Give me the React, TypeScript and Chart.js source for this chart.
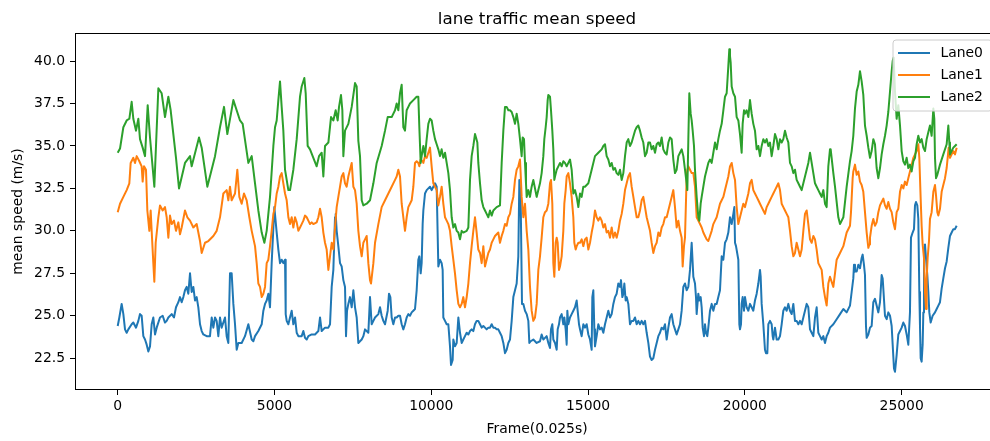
import React, { useEffect, useRef } from "react";
import { Chart, registerables } from "chart.js";

Chart.register(...registerables);

const TITLE = "lane traffic mean speed";
const X_LABEL = "Frame(0.025s)";
const Y_LABEL = "mean speed (m/s)";
const seriesNames = ["Lane0", "Lane1", "Lane2"];
const seriesColors = ["#1f77b4", "#ff7f0e", "#2ca02c"];
const xTickValues = [0, 5000, 10000, 15000, 20000, 25000];
const yTickValues = [22.5, 25, 27.5, 30, 32.5, 35, 37.5, 40];
const xAxisRange = [-1362, 28105];
const yAxisRange = [20.63, 41.65];

const lane0Frames = [
  0,52,126,180,233,286,339,445,498,584,658,711,764,817,871,924,977,1030,1083,1136,1190,1243,1349,1434,1508,1562,1615,1721,1795,1859,1934,1987,2040,2093,2146,2199,2252,2306,2359,2412,2465,2518,2571,2625,2678,2731,2837,2943,2997,3050,3103,3156,3209,3262,3315,3422,3475,3528,3581,3634,3688,3741,3794,3847,3953,4059,4166,
  4273,4326,4379,4485,4592,4645,4698,4751,4804,4857,4910,4995,5070,5123,5176,5229,5282,5336,5357,5389,5442,5495,5548,5601,5655,5708,5761,5867,5920,5973,6027,6080,6186,6292,6399,6452,6505,6611,6718,6771,6824,6877,6930,6951,6983,7036,7090,7143,7196,7249,7281,7313,7355,7408,7462,7515,7568,7621,7674,7727,7781,7834,7887,7993,8046,8099,8153,8206,8312,8365,8418,8471,8525,8610,8652,8695,8737,8790,8844,
  8896,8949,9003,9056,9109,9162,9215,9268,9321,9375,9428,9481,9534,9587,9619,9662,9693,9725,9747,9800,9853,9906,9959,10012,10065,10119,10172,10225,10278,10331,10363,10384,10438,10491,10544,10597,10629,10682,10703,10756,10810,10863,10916,10969,11022,11075,11129,11182,11235,11288,11341,11394,11447,11500,11554,11607,11660,11713,11766,11819,11873,11926,11979,12032,12085,12138,12191,12245,12298,12351,12404,12457,12510,12564,12617,12670,12723,12776,12808,12850,12893,12936,12989,13042,13095,13127,13169,13254,13361,13467,
  13520,13573,13627,13680,13733,13786,13818,13860,13892,13946,13999,14031,14073,14105,14158,14211,14243,14286,14318,14339,14371,14424,14477,14530,14583,14637,14668,14711,14743,14796,14849,14902,14955,15009,15062,15115,15136,15168,15200,15221,15274,15327,15381,15434,15487,15540,15593,15646,15700,15753,15806,15859,15912,15965,16018,16050,16093,16125,16157,16199,16231,16284,16337,16390,16444,16497,16550,16603,16656,16709,16762,16816,16869,16922,16975,17028,17081,17135,17188,17241,17294,17347,17400,17453,17507,17560,17613,17666,17719,17772,17825,17879,17932,17985,18038,18091,
  18144,18198,18251,18304,18336,18357,18410,18442,18463,18516,18548,18591,18623,18655,18697,18729,18761,18803,18835,18889,18942,18995,19048,19101,19154,19207,19261,19314,19367,19420,19473,19526,19580,19633,19665,19686,19718,19739,19792,19824,19845,19877,19898,19930,19973,20005,20058,20111,20164,20217,20270,20323,20377,20430,20483,20504,20536,20589,20642,20674,20717,20749,20802,20855,20887,20908,20961,21015,21068,21121,21174,21227,21280,21333,21387,21440,21493,21546,21599,21652,21706,21759,21812,21865,21918,21971,22024,22078,22131,22184,22237,22290,22343,22396,22450,22503,22556,22609,22662,22715,
  22822,22928,23035,23141,23247,23353,23406,23459,23481,23512,23566,23619,23672,23725,23757,23799,23831,23863,23885,23938,23991,24044,24097,24150,24203,24257,24310,24363,24395,24416,24469,24522,24575,24629,24682,24714,24756,24788,24841,24894,24948,25001,25054,25107,25160,25213,25266,25298,25351,25394,25426,25458,25500,25532,25564,25585,25607,25638,25670,25692,25713,25745,25777,25819,25851,25883,25926,25989,26064,26117,26170,26223,26276,26329,26383,26436,26489,26542,26595,26648,26701,26755,
];
const lane0Speed = [
  24.4,24.9,25.7,25.1,24.2,24.0,24.2,24.5,24.6,24.3,24.7,25.1,25.0,23.8,23.6,23.3,22.9,23.2,24.5,24.9,23.9,24.3,24.9,25.0,24.6,24.7,24.9,25.1,24.9,25.5,25.8,26.1,25.8,26.1,26.5,26.7,26.3,27.5,26.4,26.7,25.9,26.1,25.5,24.5,24.1,23.9,23.8,23.8,24.9,24.3,24.9,24.7,23.8,24.9,24.3,24.9,23.8,23.4,27.5,27.5,25.7,24.5,23.0,23.4,23.4,23.8,24.5,
  23.6,23.5,23.8,24.1,24.5,25.3,25.7,25.9,26.3,25.5,28.1,31.4,29.9,28.9,28.1,28.3,28.1,28.3,25.1,24.7,24.5,24.9,25.3,24.5,24.9,24.0,23.8,23.8,24.1,23.7,23.6,23.8,23.9,23.9,24.1,24.9,24.1,24.3,24.3,24.5,26.7,27.7,30.8,31.0,30.0,29.1,28.1,27.9,27.1,26.7,23.8,25.3,25.7,26.1,25.5,26.5,25.5,24.9,23.4,23.5,23.6,23.8,24.2,24.0,26.1,24.5,24.7,24.9,25.1,25.5,25.0,24.7,24.5,25.3,26.3,26.1,24.9,24.5,24.9,
  24.9,25.0,25.0,24.5,24.2,24.5,24.9,25.1,25.0,25.2,25.3,25.4,26.5,28.3,28.5,27.5,28.1,30.4,31.2,32.2,32.4,32.5,32.6,32.4,32.6,32.8,32.6,27.9,28.3,28.1,27.7,24.9,24.7,24.5,24.5,23.2,22.1,22.4,23.6,23.2,23.4,24.9,24.0,23.4,23.6,23.8,24.0,23.9,24.1,24.2,24.1,24.5,24.7,24.7,24.5,24.3,24.4,24.3,24.2,24.3,24.3,24.5,24.3,24.3,24.2,24.2,24.0,23.8,23.4,22.8,23.0,23.4,23.6,24.7,26.1,26.5,26.9,28.5,33.0,32.0,25.7,25.7,25.3,25.1,24.7,23.4,23.5,23.6,23.4,23.5,
  23.9,23.6,23.7,23.8,23.4,23.1,24.2,24.5,23.6,23.4,23.0,24.2,24.5,24.9,25.1,24.5,24.9,24.2,23.3,25.3,24.5,24.9,25.1,25.3,25.5,25.9,25.3,24.5,24.2,23.8,24.5,24.3,24.5,23.9,23.6,23.0,26.1,26.5,24.2,23.2,23.8,24.5,24.2,24.3,24.0,24.5,24.9,25.3,24.9,25.1,25.7,26.1,26.3,26.9,26.7,27.1,26.1,26.3,26.9,25.9,26.1,25.7,24.5,24.7,24.7,24.9,24.5,24.7,24.5,24.7,24.5,24.7,24.0,23.4,22.6,22.4,22.5,23.0,23.4,23.8,24.0,24.3,24.2,24.5,23.6,24.3,24.9,25.1,24.5,24.2,23.9,24.2,24.5,25.3,26.7,26.9,
  26.5,26.7,27.7,29.3,28.1,27.3,26.9,26.1,25.1,26.3,25.9,26.1,25.5,24.3,23.8,24.5,24.0,23.8,24.3,25.3,25.7,25.3,25.7,25.7,26.1,26.5,28.5,28.3,29.3,29.5,29.9,30.8,30.4,31.0,31.4,29.3,29.1,29.1,28.3,24.5,24.2,24.5,25.7,26.1,25.3,26.1,25.5,25.3,25.7,25.5,25.3,25.9,26.3,26.9,27.7,27.3,25.7,24.5,23.0,22.8,22.8,24.5,24.7,24.5,23.8,23.6,24.3,23.6,23.6,23.8,24.5,25.3,25.5,25.3,25.7,25.3,25.1,25.7,24.7,24.7,24.5,24.7,24.5,24.9,25.3,25.7,25.5,24.2,24.0,23.8,24.9,25.5,24.0,23.8,23.6,23.8,23.4,23.8,24.0,24.3,
  24.5,24.8,25.1,25.4,25.2,25.6,26.4,27.2,28.0,27.6,27.6,28.0,27.8,28.4,28.6,28.0,27.4,24.4,23.7,23.9,24.3,24.4,25.8,26.0,25.6,25.2,25.8,27.4,27.2,26.6,25.0,24.8,25.2,25.0,24.4,23.3,21.9,21.7,22.7,23.9,24.1,24.3,24.6,24.4,23.9,23.3,25.2,29.6,29.9,30.1,31.5,31.7,31.5,30.7,26.4,24.4,22.5,22.3,23.3,25.2,28.4,29.2,28.4,27.4,26.4,25.2,24.6,25.0,25.2,25.4,25.6,25.8,26.6,27.2,27.8,28.2,29.0,29.7,29.9,30.1,30.1,30.3,
];

const lane1Frames = [
  0,74,180,286,371,413,498,552,605,690,764,796,839,902,945,1009,1051,1083,1136,1168,1211,1296,1349,1434,1508,1562,1615,1668,1721,1795,1859,1934,1987,2040,2146,2221,2306,2412,2518,2625,2678,2784,2890,3050,3156,3262,3369,3475,3528,3581,3634,3741,3815,3879,3953,4028,4113,4198,
  4273,4379,4432,4485,4538,4592,4645,4698,4751,4804,4857,4910,4964,5017,5070,5123,5176,5229,5282,5336,5389,5442,5495,5548,5601,5655,5708,5761,5814,5867,5920,5973,6027,6080,6133,6186,6239,6345,6399,6452,6505,6558,6611,6664,6718,6771,6824,6877,6930,6983,7036,7090,7143,7196,7249,7302,7355,7408,7462,7515,7568,7621,7674,7727,7781,7834,7887,7940,7993,8046,8078,8153,8206,8312,8418,8525,8631,8737,8844,
  8896,8949,9003,9056,9109,9162,9215,9268,9321,9375,9428,9481,9534,9587,9619,9662,9725,9747,9800,9853,9906,9959,10012,10065,10119,10172,10225,10278,10331,10384,10438,10491,10544,10597,10650,10703,10756,10810,10863,10916,10969,11022,11075,11129,11182,11235,11288,11341,11394,11447,11500,11554,11607,11660,11713,11766,11819,11873,11926,11979,12032,12085,12138,12191,12245,12298,12351,12404,12457,12510,12564,12617,12670,12723,12776,12829,12850,12882,12936,12989,13042,13095,13148,13201,13254,13308,13361,13414,13467,
  13520,13573,13627,13680,13733,13786,13818,13860,13892,13924,13967,13999,14031,14073,14105,14158,14211,14243,14286,14318,14371,14424,14477,14530,14562,14605,14637,14690,14743,14796,14849,14902,14955,15009,15062,15115,15168,15221,15274,15327,15381,15434,15487,15540,15593,15646,15700,15753,15806,15859,15912,15965,16018,16072,16125,16178,16231,16284,16337,16390,16444,16497,16550,16603,16656,16709,16762,16816,16869,16922,16975,17028,17081,17135,17188,17241,17294,17347,17400,17453,17507,17560,17613,17666,17719,17772,17825,17879,17932,17985,18017,18059,18091,
  18144,18166,18198,18251,18304,18357,18410,18463,18516,18570,18623,18676,18729,18782,18835,18889,18942,18995,19048,19101,19154,19207,19261,19314,19367,19420,19473,19526,19580,19633,19686,19739,19792,19845,19898,19951,20005,20058,20111,20164,20217,20270,20323,20377,20430,20483,20536,20589,20642,20696,20749,20802,20855,20908,20961,21015,21068,21121,21174,21227,21280,21333,21387,21440,21493,21546,21599,21652,21706,21759,21812,21865,21918,21971,22024,22078,22131,22184,22237,22290,22343,22396,22450,22503,22556,22609,22662,22715,
  22822,22928,23035,23141,23247,23353,23385,23406,23438,23459,23512,23566,23619,23672,23725,23778,23831,23885,23938,23970,23991,24044,24097,24150,24203,24257,24310,24363,24416,24469,24522,24575,24629,24682,24735,24788,24841,24894,24948,25001,25054,25107,25160,25213,25266,25320,25373,25426,25479,25532,25564,25607,25638,25670,25713,25745,25777,25798,25830,25872,25904,25957,26011,26064,26096,26138,26170,26223,26276,26329,26383,26436,26468,26500,26542,26595,26648,26701,26755,
];
const lane1Speed = [
  31.1,31.6,32.0,32.4,32.8,34.0,34.3,34.0,34.4,34.1,33.8,32.9,33.8,33.6,31.2,30.0,31.2,30.0,28.1,27.0,29.3,30.8,31.5,31.2,31.4,30.8,29.6,30.9,30.4,30.6,30.0,30.5,29.8,30.2,31.2,30.8,30.6,30.2,30.4,29.4,28.7,29.3,29.4,29.7,30.0,30.8,32.2,32.4,31.8,32.6,31.8,32.2,33.6,32.0,31.6,32.2,31.8,30.8,
  30.0,29.1,28.1,26.9,26.7,26.1,26.3,26.7,28.1,28.3,29.1,30.0,31.0,31.4,32.2,32.6,33.2,33.4,32.8,32.2,31.8,30.8,30.4,30.8,30.2,30.8,30.5,30.0,30.2,30.4,30.6,30.9,30.8,30.6,30.4,30.5,30.4,30.5,30.8,31.3,30.8,29.9,29.3,28.9,27.7,28.5,29.3,28.9,30.2,31.4,32.0,32.6,33.2,33.4,32.8,32.6,33.2,33.6,34.0,32.6,32.4,31.6,30.0,29.1,28.5,29.3,29.5,29.7,28.1,27.1,26.9,28.1,29.3,30.4,31.4,31.8,32.2,32.6,33.0,
  33.2,33.6,33.2,31.6,30.8,30.0,30.8,31.4,31.6,31.8,32.6,34.0,34.1,34.0,33.8,34.2,34.1,34.0,34.4,34.3,34.6,34.9,33.8,32.8,32.6,32.4,31.5,32.0,32.6,31.6,30.8,30.6,30.4,30.0,29.1,28.3,27.5,26.5,25.7,25.5,25.7,26.1,25.5,26.1,26.9,28.1,29.1,30.0,30.8,29.9,28.9,28.7,28.1,29.1,27.9,28.3,28.7,28.9,29.3,29.5,29.7,29.8,29.9,29.3,29.7,30.0,30.4,30.3,30.8,31.0,31.6,32.0,33.0,33.6,33.8,34.2,33.4,32.0,30.8,31.6,30.0,28.9,26.7,25.3,24.7,24.9,25.7,27.7,28.5,
  29.6,30.8,31.1,31.2,31.6,32.8,33.0,31.6,28.1,27.3,29.3,29.6,29.3,27.7,27.9,28.5,30.0,31.6,32.4,33.2,33.4,32.8,32.0,30.8,29.3,28.9,29.1,29.3,29.3,29.5,29.1,29.5,29.6,28.9,29.3,29.9,30.4,31.2,30.8,30.6,30.8,30.6,30.2,30.4,29.9,30.0,29.6,30.2,29.6,29.9,29.6,30.0,30.6,31.0,31.6,32.4,32.8,33.2,33.4,32.6,32.0,31.4,30.8,30.8,31.2,31.8,32.0,31.4,30.8,30.4,30.0,29.3,28.7,29.1,29.3,29.9,29.7,30.2,30.4,30.8,30.8,31.2,31.6,32.0,32.4,31.4,30.2,30.6,30.0,29.6,27.9,29.1,29.6,
  33.2,33.6,33.8,33.6,33.4,33.4,32.6,30.8,30.6,30.4,30.2,29.9,29.7,29.5,29.4,29.7,30.0,30.4,30.6,30.8,31.2,31.6,31.8,32.0,32.4,32.8,33.2,33.8,34.0,33.4,33.0,31.4,30.4,30.8,31.2,31.6,31.4,31.8,32.2,32.8,33.0,32.4,32.2,32.0,31.8,31.6,31.4,31.2,31.0,31.4,31.6,31.8,32.0,32.2,32.4,32.6,32.8,32.4,31.6,31.4,31.2,31.0,30.8,30.0,29.1,28.5,28.7,29.3,28.9,28.5,28.9,30.0,31.0,31.2,30.4,29.5,29.3,29.7,29.5,28.9,28.1,27.9,27.7,26.7,26.1,25.6,26.9,27.3,
  26.7,28.3,28.7,29.1,29.9,30.3,31.1,31.9,33.1,33.5,33.9,33.3,33.5,32.9,32.7,32.3,31.1,29.9,29.0,29.2,29.6,30.3,30.7,30.3,30.5,31.1,31.5,31.7,31.9,31.5,31.3,31.7,31.3,31.1,30.5,30.1,31.1,31.3,32.3,32.7,32.5,32.9,32.7,33.1,33.5,33.9,34.3,34.5,34.7,35.1,34.3,31.9,30.3,29.2,28.4,26.4,25.4,27.2,28.4,29.4,30.7,31.1,32.3,32.7,32.1,31.1,30.9,31.3,32.3,32.7,33.1,33.7,34.3,34.9,34.3,34.5,34.7,34.5,34.9,
];

const lane2Frames = [
  0,74,180,286,371,445,498,584,658,711,796,871,956,1030,1168,1296,1402,1508,1615,1689,1859,1955,2146,2306,2359,2593,2678,2858,3103,3262,3390,3496,3688,3900,3985,4166,
  4273,4379,4485,4592,4677,4751,4857,4964,5017,5070,5123,5176,5229,5282,5336,5389,5442,5495,5601,5708,5814,5867,5952,5995,6058,6133,6239,6345,6420,6505,6558,6611,6718,6803,6877,6951,7015,7058,7121,7164,7196,7249,7355,7462,7568,7621,7674,7727,7781,7834,7940,8046,8153,8259,8418,8525,8610,8737,8844,
  8896,8949,9003,9056,9109,9162,9215,9268,9321,9428,9534,9587,9619,9662,9693,9747,9800,9853,9906,9959,10012,10065,10119,10172,10225,10278,10331,10384,10438,10491,10544,10597,10650,10703,10756,10810,10863,10916,10969,11022,11129,11182,11235,11288,11341,11394,11426,11469,11500,11554,11607,11660,11713,11766,11819,11873,11926,11979,12085,12191,12245,12298,12351,12404,12457,12510,12564,12617,12670,12723,12776,12829,12882,12914,12957,12989,13020,13042,13095,13148,13201,13254,13361,13414,13467,
  13520,13573,13605,13648,13680,13712,13733,13786,13818,13860,13892,13924,13946,13999,14052,14105,14158,14211,14264,14318,14371,14424,14477,14530,14583,14637,14690,14743,14796,14849,14902,15009,15115,15221,15327,15434,15487,15540,15593,15646,15700,15753,15806,15859,15912,15965,16018,16072,16125,16178,16231,16284,16337,16390,16497,16550,16603,16656,16709,16762,16816,16869,16922,16975,17028,17081,17135,17188,17241,17294,17347,17400,17453,17507,17560,17613,17666,17719,17772,17825,17879,17932,17985,18038,18091,
  18144,18166,18198,18229,18272,18304,18336,18378,18410,18463,18516,18548,18591,18623,18676,18729,18782,18835,18889,18942,18995,19048,19101,19154,19207,19261,19314,19367,19420,19473,19505,19526,19548,19580,19633,19686,19739,19792,19845,19898,19930,19973,20005,20058,20111,20164,20217,20270,20323,20377,20430,20483,20536,20589,20642,20696,20749,20802,20855,20908,20961,21015,21068,21121,21174,21227,21280,21333,21387,21440,21493,21546,21599,21652,21706,21759,21812,21865,21918,21971,22024,22078,22131,22184,22237,22290,22343,22396,22450,22503,22556,22609,22662,22715,
  22737,22822,22875,22981,23035,23141,23247,23353,23406,23459,23512,23566,23619,23672,23725,23778,23831,23885,23938,23991,24044,24097,24150,24203,24257,24310,24363,24416,24469,24522,24575,24629,24682,24714,24746,24788,24841,24894,24948,25001,25054,25107,25160,25213,25266,25320,25373,25426,25479,25532,25585,25638,25692,25745,25798,25851,25904,25957,26011,26042,26064,26096,26138,26223,26329,26436,26489,26521,26542,26595,26648,26701,26755,
];
const lane2Speed = [
  34.6,34.85,36.1,36.5,36.6,37.6,36.6,35.9,36.6,35.4,34.9,34.4,37.4,35.5,32.6,38.4,38.1,36.7,37.9,37.1,34.3,32.5,34.0,34.4,33.8,35.5,34.9,32.6,34.4,36.1,37.3,35.7,37.7,36.5,36.3,34.0,
  34.4,32.8,31.2,29.9,29.3,30.0,32.0,35.0,36.1,36.5,37.7,38.8,37.3,35.9,33.6,33.0,32.4,32.4,33.6,35.4,37.9,38.5,39.0,38.1,35.0,34.8,34.3,33.8,34.4,34.6,33.2,35.0,35.2,36.7,36.5,37.1,36.5,37.3,38.0,37.1,34.4,35.9,36.3,37.3,38.7,38.5,35.3,34.4,31.8,31.5,31.6,31.8,32.8,34.0,35.0,35.9,36.7,36.7,37.1,
  37.5,37.1,38.1,38.6,36.1,35.9,37.1,37.3,37.5,37.7,37.9,37.9,36.1,34.0,34.4,35.0,34.4,35.4,36.3,36.6,36.5,35.9,35.4,35.1,34.8,34.4,34.8,34.3,34.6,34.0,33.4,32.4,30.8,30.2,30.4,30.0,29.9,29.5,30.0,29.9,30.0,30.2,33.0,34.4,35.0,35.7,35.5,35.2,34.0,32.8,31.8,31.4,31.2,31.0,30.8,31.2,30.9,31.2,31.4,31.5,34.0,35.9,37.3,37.3,37.1,37.1,37.0,36.7,36.3,36.9,36.3,35.4,34.4,35.5,35.4,34.0,32.8,32.0,32.4,32.0,32.6,33.0,32.0,32.4,32.8,
  33.4,34.4,35.4,36.1,36.7,37.7,38.0,37.9,37.1,35.9,34.8,33.0,33.2,33.6,33.8,34.0,33.8,34.1,34.0,33.8,34.0,34.2,33.6,32.2,32.4,32.0,31.4,32.2,32.0,32.6,32.6,32.8,33.6,34.4,34.6,34.8,35.0,35.1,34.4,34.2,33.8,34.0,33.6,33.7,33.4,33.3,33.6,33.0,33.4,34.4,35.2,35.4,35.0,35.2,35.9,36.1,36.2,35.9,35.5,35.2,34.4,34.6,35.2,35.2,34.8,35.0,34.6,35.1,35.2,35.0,35.5,34.8,34.6,34.5,35.2,35.5,35.4,34.2,33.4,33.6,34.4,34.6,34.8,34.4,33.6,
  32.8,32.4,35.4,38.1,36.9,36.5,35.9,35.0,33.6,32.0,30.8,30.6,31.6,32.0,32.6,33.2,33.6,34.0,34.2,34.0,34.6,35.2,34.8,35.4,35.9,36.3,37.1,37.9,38.1,39.7,40.7,40.3,39.9,38.5,38.1,37.9,36.7,36.5,35.7,34.6,36.3,37.1,36.9,37.1,36.7,37.7,36.9,36.3,35.9,34.8,35.0,34.4,35.0,35.4,35.2,35.4,35.0,35.2,34.4,35.0,35.7,35.4,34.8,35.4,35.2,35.4,35.9,35.5,35.2,34.0,33.8,33.4,33.6,33.0,32.8,32.6,32.4,32.8,33.2,33.6,34.0,34.6,34.0,33.4,32.8,32.6,32.4,32.2,32.0,32.4,31.6,31.4,33.8,34.8,
  34.8,33.4,32.6,30.8,30.4,30.8,32.6,34.1,34.7,35.6,37.2,38.2,38.6,39.4,38.8,38.0,36.2,35.6,34.9,34.3,34.7,35.4,35.1,33.7,33.1,33.7,34.5,35.1,35.6,36.2,37.0,38.2,39.4,40.0,40.2,38.2,36.6,37.4,36.2,34.7,34.1,33.9,34.3,33.7,33.9,33.5,34.1,34.3,35.1,35.6,35.2,35.4,34.9,34.7,35.4,35.8,36.2,35.6,37.2,36.6,34.3,33.1,33.3,33.9,34.5,35.1,36.2,35.2,34.5,34.7,34.9,35.0,35.1,
];

const FONT = "'DejaVu Sans', 'Liberation Sans', sans-serif";

function toPoints(frames: number[], speeds: number[]) {
  const n = Math.min(frames.length, speeds.length);
  const pts: { x: number; y: number }[] = [];
  for (let i = 0; i < n; i++) pts.push({ x: frames[i], y: speeds[i] });
  return pts;
}

const decorPlugin = {
  id: "decor",
  afterDatasetsDraw(chart: any) {
    const { ctx, chartArea: a } = chart;
    ctx.save();
    ctx.strokeStyle = "#000";
    ctx.lineWidth = 1;
    ctx.strokeRect(Math.round(a.left) + 0.5, Math.round(a.top) + 0.5, Math.round(a.right - a.left), Math.round(a.bottom - a.top) - 1);
    ctx.restore();
  },
  afterDraw(chart: any) {
    const { ctx, chartArea: a } = chart;
    const cx = (a.left + a.right) / 2;
    ctx.save();
    ctx.fillStyle = "#000";
    ctx.textAlign = "center";
    ctx.textBaseline = "alphabetic";
    ctx.font = `16.7px ${FONT}`;
    ctx.fillText(TITLE, cx, 24);
    ctx.font = `13.9px ${FONT}`;
    ctx.fillText(X_LABEL, cx, 433);
    ctx.save();
    ctx.translate(22, (a.top + a.bottom) / 2);
    ctx.rotate(-Math.PI / 2);
    ctx.fillText(Y_LABEL, 0, 0);
    ctx.restore();

    // legend (upper right, inside axes)
    const lw = 99, lh = 71;
    const lx = a.right - 7 - lw;
    const ly = a.top + 7;
    const r = 3;
    ctx.beginPath();
    ctx.moveTo(lx + r, ly);
    ctx.lineTo(lx + lw - r, ly);
    ctx.arcTo(lx + lw, ly, lx + lw, ly + r, r);
    ctx.lineTo(lx + lw, ly + lh - r);
    ctx.arcTo(lx + lw, ly + lh, lx + lw - r, ly + lh, r);
    ctx.lineTo(lx + r, ly + lh);
    ctx.arcTo(lx, ly + lh, lx, ly + lh - r, r);
    ctx.lineTo(lx, ly + r);
    ctx.arcTo(lx, ly, lx + r, ly, r);
    ctx.closePath();
    ctx.fillStyle = "rgba(255,255,255,0.8)";
    ctx.fill();
    ctx.strokeStyle = "#cccccc";
    ctx.lineWidth = 1;
    ctx.stroke();
    ctx.textAlign = "left";
    ctx.textBaseline = "middle";
    ctx.font = `13.9px ${FONT}`;
    for (let i = 0; i < seriesNames.length; i++) {
      const y = ly + 13 + i * 22;
      ctx.strokeStyle = seriesColors[i];
      ctx.lineWidth = 2;
      ctx.beginPath();
      ctx.moveTo(lx + 5, y);
      ctx.lineTo(lx + 37, y);
      ctx.stroke();
      ctx.fillStyle = "#000";
      ctx.fillText(seriesNames[i], lx + 47.5, y + 0.5);
    }
    ctx.restore();
  },
};

export default function App() {
  const ref = useRef<HTMLCanvasElement>(null);
  useEffect(() => {
    const canvas = ref.current;
    if (!canvas) return;
    const series = [
      toPoints(lane0Frames, lane0Speed),
      toPoints(lane1Frames, lane1Speed),
      toPoints(lane2Frames, lane2Speed),
    ];
    const chart = new Chart(canvas, {
      type: "line",
      data: {
        datasets: series.map((pts, i) => ({
          label: seriesNames[i],
          data: pts,
          borderColor: seriesColors[i],
          backgroundColor: seriesColors[i],
          borderWidth: 2,
          pointRadius: 0,
          tension: 0,
          fill: false,
          borderJoinStyle: "round" as const,
          order: seriesNames.length - 1 - i,
        })),
      },
      options: {
        responsive: false,
        animation: false,
        devicePixelRatio: 1,
        parsing: false,
        layout: { padding: { left: 0, right: 11, top: 33, bottom: 0 } },
        plugins: {
          legend: { display: false },
          title: { display: false },
          tooltip: { enabled: false },
        },
        scales: {
          x: {
            type: "linear",
            min: xAxisRange[0],
            max: xAxisRange[1],
            afterBuildTicks: (s: any) => {
              s.ticks = xTickValues.map((v) => ({ value: v }));
            },
            afterFit: (s: any) => {
              s.height = 51;
            },
            grid: { display: true, drawOnChartArea: false, drawTicks: true, tickLength: 5, tickWidth: 1, tickColor: "#000" },
            border: { display: false },
            ticks: {
              autoSkip: false,
              maxRotation: 0,
              padding: 3,
              color: "#000",
              font: { family: FONT, size: 13.9 },
              callback: (v: any) => String(v),
            },
          },
          y: {
            type: "linear",
            min: yAxisRange[0],
            max: yAxisRange[1],
            afterBuildTicks: (s: any) => {
              s.ticks = yTickValues.map((v) => ({ value: v }));
            },
            afterFit: (s: any) => {
              s.width = 75;
            },
            grid: { display: true, drawOnChartArea: false, drawTicks: true, tickLength: 5, tickWidth: 1, tickColor: "#000" },
            border: { display: false },
            ticks: {
              autoSkip: false,
              padding: 5,
              color: "#000",
              font: { family: FONT, size: 13.9 },
              callback: (v: any) => Number(v).toFixed(1),
            },
          },
        },
      } as any,
      plugins: [decorPlugin],
    });
    return () => chart.destroy();
  }, []);
  return (
    <div style={{ position: "fixed", left: 0, top: 0, width: 990, height: 441, overflow: "hidden", background: "#fff" }}>
      <canvas ref={ref} width={1010} height={441} style={{ display: "block", width: 1010, height: 441 }} />
    </div>
  );
}
